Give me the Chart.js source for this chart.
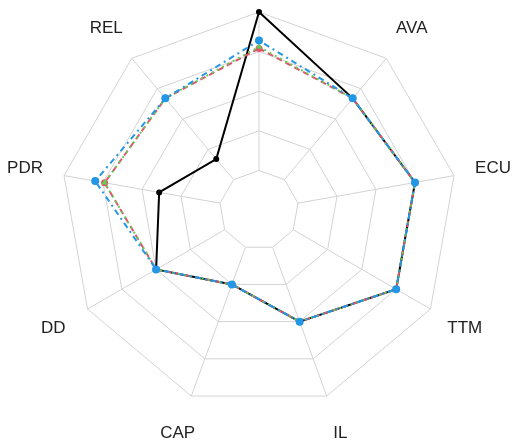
<!DOCTYPE html>
<html lang="en">
<head>
    <meta charset="UTF-8">
    <title>Radar chart</title>
    <script src="https://cdn.jsdelivr.net/npm/chart.js"></script>
    <style>
        html, body { margin: 0; padding: 0; background: #fff; }
        .chart-container { width: 512px; height: 445px; }
    </style>
</head>
<body>
    <div class="chart-container">
        <canvas id="radarChart"></canvas>
    </div>
    <script>
        // axes, clockwise from the top (top axis label falls outside the picture)
        var labels = ['', 'AVA', 'ECU', 'TTM', 'IL', 'CAP', 'DD', 'PDR', 'REL'];

        // series values, 0 = inner ring, 1 = outer ring
        var series1 = [1.00, 0.67, 0.75, 0.75, 0.50, 0.25, 0.50, 0.39, 0.17];
        var series2 = [0.77, 0.67, 0.75, 0.75, 0.50, 0.25, 0.50, 0.74, 0.67];
        var series3 = [0.78, 0.67, 0.75, 0.75, 0.50, 0.25, 0.50, 0.74, 0.67];
        var series4 = [0.82, 0.67, 0.75, 0.75, 0.50, 0.25, 0.50, 0.80, 0.67];

        var gridColor = '#d3d3d3';

        // spokes start at the inner ring, leaving a hole in the middle
        var spokes = {
            id: 'spokes',
            beforeDatasetsDraw: function(chart) {
                var s = chart.scales.r;
                var ctx = chart.ctx;
                var r0 = s.getDistanceFromCenterForValue(0);
                var r1 = s.getDistanceFromCenterForValue(1);
                ctx.save();
                ctx.strokeStyle = gridColor;
                ctx.lineWidth = 1;
                for (var i = 0; i < labels.length; i++) {
                    var a = s.getPointPosition(i, r0);
                    var b = s.getPointPosition(i, r1);
                    ctx.beginPath();
                    ctx.moveTo(a.x, a.y);
                    ctx.lineTo(b.x, b.y);
                    ctx.stroke();
                }
                ctx.restore();
            }
        };

        // axis labels sit at 1.2 x the outer radius
        var axisLabels = {
            id: 'axisLabels',
            afterDraw: function(chart) {
                var s = chart.scales.r;
                var ctx = chart.ctx;
                var r = s.getDistanceFromCenterForValue(1) * 1.2;
                ctx.save();
                ctx.fillStyle = '#222';
                ctx.font = '17px "Liberation Sans", Arial, sans-serif';
                ctx.textAlign = 'center';
                ctx.textBaseline = 'middle';
                for (var i = 0; i < labels.length; i++) {
                    var p = s.getPointPosition(i, r);
                    ctx.fillText(labels[i], p.x, p.y);
                }
                ctx.restore();
            }
        };

        var ctxRadar = document.getElementById('radarChart').getContext('2d');
        var radarChart = new Chart(ctxRadar, {
            type: 'radar',
            data: {
                labels: labels,
                datasets: [{
                    label: 'S1',
                    data: series1,
                    borderColor: '#000000',
                    backgroundColor: '#000000',
                    borderWidth: 2,
                    pointRadius: 3,
                    pointBorderWidth: 0,
                    fill: false,
                    order: 4
                }, {
                    label: 'S2',
                    data: series2,
                    borderColor: '#DF536B',
                    backgroundColor: '#DF536B',
                    borderWidth: 2,
                    borderDash: [6, 4],
                    pointRadius: 3.5,
                    pointBorderWidth: 0,
                    fill: false,
                    order: 3
                }, {
                    label: 'S3',
                    data: series3,
                    borderColor: '#61D04F',
                    backgroundColor: '#61D04F',
                    borderWidth: 2,
                    borderDash: [2, 4],
                    pointRadius: 3.5,
                    pointStyle: 'triangle',
                    pointBorderWidth: 0,
                    fill: false,
                    order: 2
                }, {
                    label: 'S4',
                    data: series4,
                    borderColor: '#2297E6',
                    backgroundColor: '#2297E6',
                    borderWidth: 2,
                    borderDash: [2, 4, 6, 4],
                    pointRadius: 4,
                    pointBorderWidth: 0,
                    fill: false,
                    order: 1
                }]
            },
            options: {
                responsive: true,
                maintainAspectRatio: false,
                animation: false,
                layout: {
                    padding: { left: 61, right: 55, top: 12, bottom: 37 }
                },
                plugins: {
                    legend: { display: false },
                    tooltip: { enabled: false }
                },
                elements: {
                    line: { tension: 0 }
                },
                scales: {
                    r: {
                        min: -0.25,
                        max: 1,
                        ticks: { display: false, stepSize: 0.25 },
                        grid: { color: gridColor, lineWidth: 1 },
                        angleLines: { display: false },
                        pointLabels: { display: false }
                    }
                }
            },
            plugins: [spokes, axisLabels]
        });
    </script>
</body>
</html>
